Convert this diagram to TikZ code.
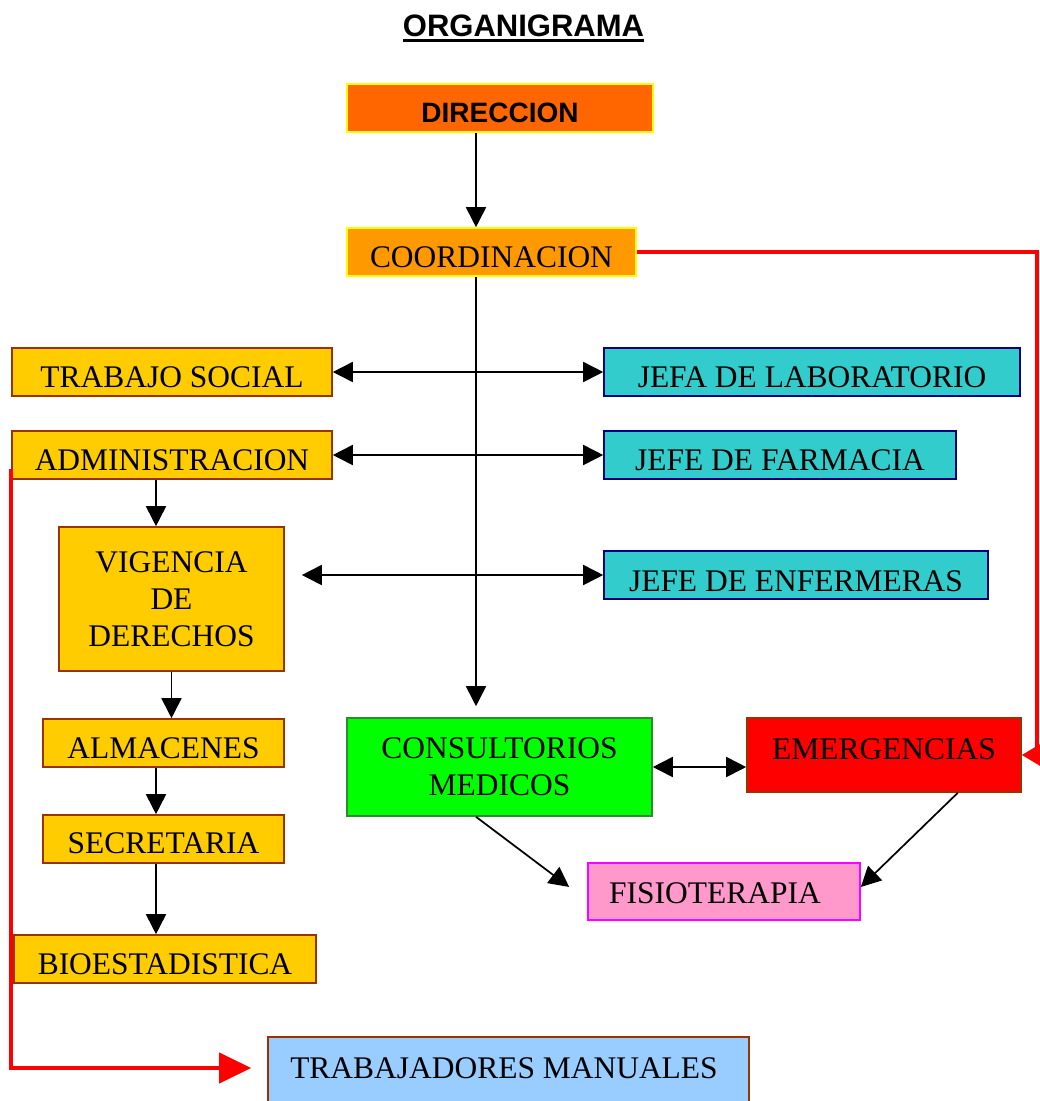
\documentclass[tikz,border=0pt]{standalone}
\usepackage{fontspec}
\setmainfont{Liberation Serif}
\newfontfamily\arialfont{Liberation Sans}
\usetikzlibrary{arrows.meta}
\definecolor{cDir}{HTML}{FF6600}
\definecolor{cCoord}{HTML}{FF9900}
\definecolor{cGold}{HTML}{FFCC00}
\definecolor{cBrown}{HTML}{993300}
\definecolor{cCyan}{HTML}{33CCCC}
\definecolor{cNavy}{HTML}{000080}
\definecolor{cGreen}{HTML}{00FF00}
\definecolor{cDkGreen}{HTML}{2E8B2E}
\definecolor{cPink}{HTML}{FF99CC}
\definecolor{cMag}{HTML}{FF00FF}
\definecolor{cSky}{HTML}{99CCFF}
\definecolor{cYel}{HTML}{FFFF00}
\tikzset{
  box/.style={draw, line width=1.2pt, inner sep=0pt, font=\fontsize{23.6pt}{27.75pt}\selectfont},
  sz/.style 2 args={minimum width=#1*0.75pt, minimum height=#2*0.75pt},
  dn/.style={text height=#1, text depth=0pt},
  upb/.style={text height=15.6pt, text depth=#1},
  goldbox/.style={box, fill=cGold, draw=cBrown},
  cyanbox/.style={box, fill=cCyan, draw=cNavy},
  conn/.style={line width=1.3pt, black, >={Triangle[length=15pt,width=15pt]}},
  redconn/.style={line width=3pt, red},
}
\begin{document}
\begin{tikzpicture}[x=0.75pt, y=-0.75pt]
\clip (0,0) rectangle (1040,1101);
\fill[white] (0,0) rectangle (1040,1101);

% title
\node[inner sep=0pt, anchor=base, font=\arialfont\bfseries\fontsize{23.25pt}{28pt}\selectfont] (title) at (523.5,36) {ORGANIGRAMA};
\draw[line width=2.25pt] ([yshift=-3.4pt]title.base west) -- ([yshift=-3.4pt]title.base east);

\coordinate (spine) at (476,0);
\coordinate (lcol) at (156,0);

% boxes
\node[box, sz={306}{48}, fill=cDir, draw=cYel, dn=21pt, font=\arialfont\bfseries\fontsize{21pt}{25pt}\selectfont] (dir) at (500,108) {DIRECCION};
\node[box, sz={289}{48}, fill=cCoord, draw=cYel, dn=23.7pt] (coord) at (491.5,252) {COORDINACION};

\node[goldbox, sz={320}{48}, dn=23.7pt] (ts) at (172,372) {TRABAJO SOCIAL};
\node[goldbox, sz={320}{48}, dn=23.7pt] (adm) at (172,455) {ADMINISTRACION};
\node[goldbox, sz={225}{144}, align=center] (vig) at (171.5,599) {VIGENCIA\\DE\\DERECHOS};
\node[goldbox, sz={241}{48}, dn=23.7pt] (alm) at (163.5,743) {ALMACENES};
\node[goldbox, sz={241}{48}, dn=22.2pt] (sec) at (163.5,839) {SECRETARIA};
\node[goldbox, sz={302}{48}, dn=23.7pt] (bio) at (165,959) {BIOESTADISTICA};

\node[cyanbox, sz={416}{48}, dn=23.7pt] (lab) at (812,372) {JEFA DE LABORATORIO};
\node[cyanbox, sz={352}{48}, dn=23.7pt] (farm) at (780,455) {JEFE DE FARMACIA};
\node[cyanbox, sz={384}{48}, dn=24.6pt] (enf) at (796,575) {JEFE DE ENFERMERAS};

\node[box, sz={305}{98}, fill=cGreen, draw=cDkGreen, align=center] (cons) at (499.5,767) {CONSULTORIOS\\MEDICOS};
\node[box, sz={274}{74}, fill=red, draw=cBrown, upb=8.4pt] (emer) at (884,755) {EMERGENCIAS};
\node[box, sz={272}{57}, fill=cPink, draw=cMag, dn=18.6pt] (fisio) at (724,891.5) {FISIOTERAPIA\hspace*{13.5pt}};
\node[box, sz={481}{68}, fill=cSky, draw=cBrown, upb=3.9pt] (trab) at (508.5,1071) {TRABAJADORES MANUALES\hspace*{6.75pt}};

% black connectors
\draw[conn, ->] (dir.south -| spine) -- (coord.north -| spine);
\draw[conn, ->, shorten >=8.25pt] (coord.south -| spine) -- (cons.north -| spine);
\draw[conn, <->] (ts.east) -- (lab.west);
\draw[conn, <->] (adm.east) -- (farm.west);
\draw[conn, <->, shorten >=12.75pt] (enf.west) -- (enf.west -| vig.east);
\draw[conn, ->] (adm.south -| lcol) -- (vig.north -| lcol);
\draw[conn, ->] (vig.south) -- (alm.north -| vig.south);
\draw[conn, ->] (alm.south -| lcol) -- (sec.north -| lcol);
\draw[conn, ->] (sec.south -| lcol) -- (bio.north -| lcol);
\draw[conn, <->] (cons.east) -- (cons.east -| emer.west);
\draw[conn, ->] (cons.south -| spine) -- ([xshift=-13.5pt, yshift=3.4pt]fisio.west);
\draw[conn, ->] ([xshift=-48pt]emer.south east) -- ([yshift=3.4pt]fisio.east);

% red connectors
\draw[redconn, -{Triangle[length=15pt,width=17pt]}] (coord.east) -| ([xshift=11.25pt]emer.east) -- (emer.east);
\draw[redconn, -{Triangle[length=24pt,width=22.5pt]}] ([yshift=8.25pt]adm.south west) |- ([xshift=-12pt, yshift=2.25pt]trab.west);
\end{tikzpicture}
\end{document}
